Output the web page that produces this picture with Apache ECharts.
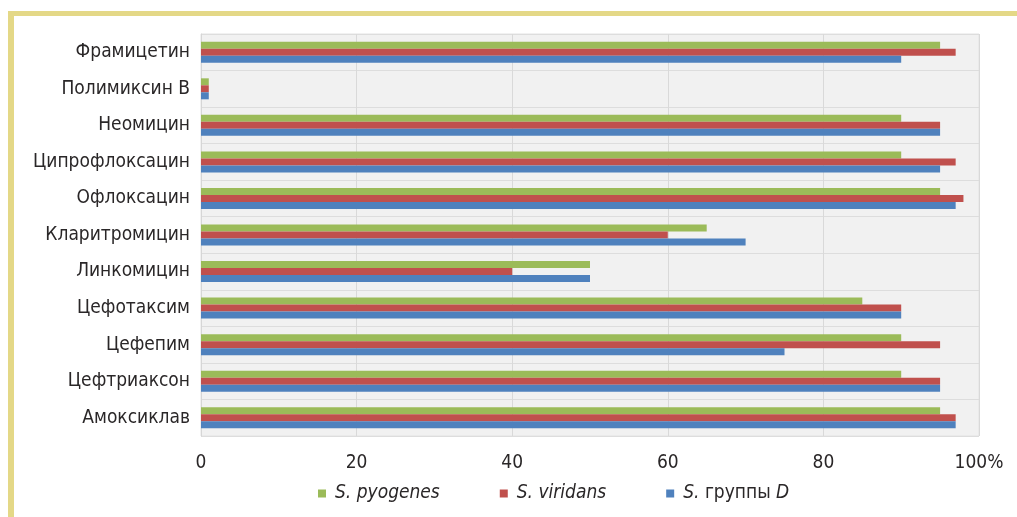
<!DOCTYPE html>
<html>
<head>
<meta charset="utf-8">
<script src="https://cdn.jsdelivr.net/npm/echarts@6/dist/echarts.min.js"></script>
<style>
  html, body { margin: 0; padding: 0; background: #ffffff; }
  #frame { position: absolute; left: 8px; top: 11px; width: 1009px; height: 506px;
           border-top: 5px solid #e4d887; border-left: 6px solid #e4d887; box-sizing: border-box; }
  #chart { position: absolute; left: 0; top: 0; width: 1017px; height: 517px; }
</style>
</head>
<body>
<div id="frame"></div>
<div id="chart"></div>
<script>
// Antibiotics, listed top to bottom
const categories = [
  'Фрамицетин', 'Полимиксин B', 'Неомицин', 'Ципрофлоксацин', 'Офлоксацин',
  'Кларитромицин', 'Линкомицин', 'Цефотаксим', 'Цефепим', 'Цефтриаксон', 'Амоксиклав'
];
// Share of sensitive strains, %
const pyogenes = [95, 1, 90, 90, 95, 65, 50, 85, 90, 90, 95];
const viridans = [97, 1, 95, 97, 98, 60, 40, 90, 95, 95, 97];
const groupD   = [90, 1, 95, 95, 97, 70, 50, 90, 75, 95, 97];
const xTicks = [0, 20, 40, 60, 80, 100];

const FONT = '"Liberation Sans Narrow", "DejaVu Sans Condensed", "Arial Narrow", "Liberation Sans", sans-serif';
const TEXT = '#2a2728';

const chart = echarts.init(document.getElementById('chart'), null, { renderer: 'canvas' });

function bar(name, data, color) {
  return {
    name: name, type: 'bar', data: data,
    barWidth: 7, barGap: '0%', barCategoryGap: '40%',
    itemStyle: { color: color },
    emphasis: { disabled: true }
  };
}

chart.setOption({
  animation: false,
  textStyle: { fontFamily: FONT },
  grid: {
    left: 201, right: 38, top: 34, bottom: 81,
    show: true, backgroundColor: '#f1f1f1', borderColor: '#e2e2e2', borderWidth: 1
  },
  xAxis: {
    type: 'value', min: xTicks[0], max: xTicks[xTicks.length - 1], interval: 20,
    axisLine: { show: false }, axisTick: { show: false },
    splitLine: { show: true, lineStyle: { color: '#d9d9d9', width: 1 } },
    axisLabel: {
      color: TEXT, fontSize: 19, fontFamily: FONT, margin: 18,
      formatter: v => (v === 100 ? '100%' : String(v))
    }
  },
  yAxis: {
    type: 'category', data: categories, inverse: true,
    axisLine: { show: true, lineStyle: { color: '#d6d6d6' } },
    axisTick: { show: false },
    splitLine: { show: true, lineStyle: { color: '#dddddd', width: 1 } },
    axisLabel: { color: TEXT, fontSize: 19, fontFamily: FONT, margin: 11 }
  },
  legend: {
    left: 313, top: 479, itemWidth: 8, itemHeight: 8, itemGap: 60,
    icon: 'rect',
    data: ['S. pyogenes', 'S. viridans', 'S. группы D'],
    formatter: function (name) {
      if (name === 'S. pyogenes') return '{i|S. pyogenes}';
      if (name === 'S. viridans') return '{i|S. viridans}';
      return '{i|S.} {n|группы} {i|D}';
    },
    textStyle: {
      color: TEXT, fontSize: 19, fontFamily: FONT, padding: [0, 0, 0, 4],
      rich: {
        i: { fontStyle: 'italic', fontSize: 19, fontFamily: FONT, color: TEXT },
        n: { fontStyle: 'normal', fontSize: 19, fontFamily: FONT, color: TEXT }
      }
    }
  },
  series: [
    bar('S. pyogenes', pyogenes, '#9bbb59'),
    bar('S. viridans', viridans, '#c0504d'),
    bar('S. группы D', groupD, '#4f81bd')
  ]
});
</script>
</body>
</html>
